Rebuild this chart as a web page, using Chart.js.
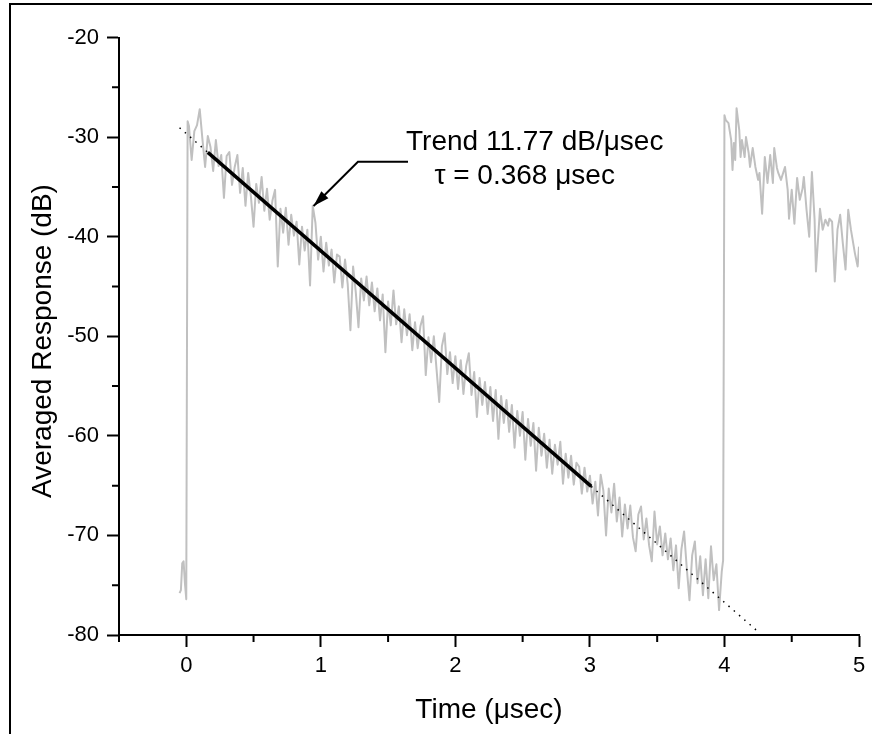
<!DOCTYPE html>
<html>
<head>
<meta charset="utf-8">
<script src="https://cdn.jsdelivr.net/npm/chart.js@4.4.1/dist/chart.umd.min.js"></script>
<style>
  html, body { margin: 0; padding: 0; background: #fff; }
  canvas { display: block; }
</style>
</head>
<body>
<canvas id="chart" width="872" height="734"></canvas>
<script>
// Time (µs) and averaged response (dB)
const timeUs = [
  -0.05, -0.04, -0.03, -0.02, -0.01, 0.00, 0.01,
  0.02, 0.04, 0.06, 0.08, 0.10, 0.12, 0.14, 0.16, 0.18, 0.20,
  0.22, 0.24, 0.26, 0.28, 0.30, 0.32, 0.34, 0.36, 0.38, 0.40,
  0.42, 0.44, 0.46, 0.48, 0.50, 0.52, 0.54, 0.56, 0.58, 0.60,
  0.62, 0.64, 0.66, 0.68, 0.70, 0.72, 0.74, 0.76, 0.78, 0.80,
  0.82, 0.84, 0.86, 0.88, 0.90, 0.92, 0.94, 0.96, 0.98, 1.00,
  1.02, 1.04, 1.06, 1.08, 1.10, 1.12, 1.14, 1.16, 1.18, 1.20,
  1.22, 1.24, 1.26, 1.28, 1.30, 1.32, 1.34, 1.36, 1.38, 1.40,
  1.42, 1.44, 1.46, 1.48, 1.50, 1.52, 1.54, 1.56, 1.58, 1.60,
  1.62, 1.64, 1.66, 1.68, 1.70, 1.72, 1.74, 1.76, 1.78, 1.80,
  1.82, 1.84, 1.86, 1.88, 1.90, 1.92, 1.94, 1.96, 1.98, 2.00,
  2.02, 2.04, 2.06, 2.08, 2.10, 2.12, 2.14, 2.16, 2.18, 2.20,
  2.22, 2.24, 2.26, 2.28, 2.30, 2.32, 2.34, 2.36, 2.38, 2.40,
  2.42, 2.44, 2.46, 2.48, 2.50, 2.52, 2.54, 2.56, 2.58, 2.60,
  2.62, 2.64, 2.66, 2.68, 2.70, 2.72, 2.74, 2.76, 2.78, 2.80,
  2.82, 2.84, 2.86, 2.88, 2.90, 2.92, 2.94, 2.96, 2.98, 3.00,
  3.02, 3.04, 3.06, 3.08, 3.10, 3.12, 3.14, 3.16, 3.18, 3.20,
  3.22, 3.24, 3.26, 3.28, 3.30, 3.32, 3.34, 3.36, 3.38, 3.40,
  3.42, 3.44, 3.46, 3.48, 3.50, 3.52, 3.54, 3.56, 3.58, 3.60,
  3.62, 3.64, 3.66, 3.68, 3.70, 3.72, 3.74, 3.76, 3.78, 3.80,
  3.82, 3.84, 3.86, 3.88, 3.90, 3.92, 3.94, 3.96, 3.98, 3.99,
  4.00, 4.01, 4.03, 4.05, 4.06, 4.07, 4.08, 4.09, 4.11, 4.12,
  4.13, 4.15, 4.16, 4.18, 4.19, 4.21, 4.23, 4.25, 4.26, 4.28,
  4.30, 4.32, 4.34, 4.36, 4.37, 4.39, 4.40, 4.42, 4.45, 4.47,
  4.48, 4.50, 4.52, 4.54, 4.56, 4.58, 4.59, 4.61, 4.63, 4.65,
  4.67, 4.68, 4.70, 4.71, 4.73, 4.75, 4.77, 4.78, 4.80, 4.82,
  4.84, 4.86, 4.88, 4.90, 4.92, 4.94, 4.97, 4.99, 5.00
];
const responseDb = [
  -75.8, -75.5, -72.8, -72.6, -74.8, -76.4, -28.4,
  -28.9, -32.3, -29.4, -28.8, -27.2, -30.2, -33.0, -29.9, -31.0, -33.4,
  -30.3, -32.9, -31.8, -36.1, -31.9, -31.5, -34.8, -33.0, -31.8, -35.6,
  -33.1, -36.9, -33.6, -35.9, -39.0, -34.7, -36.6, -34.0, -37.4, -35.2,
  -38.3, -36.4, -35.3, -43.0, -37.2, -39.6, -37.1, -40.8, -37.8, -39.9,
  -38.5, -42.8, -39.0, -41.4, -39.3, -44.9, -36.9, -38.6, -42.3, -40.0,
  -43.5, -40.6, -42.9, -41.3, -44.6, -41.8, -42.0, -45.1, -42.3, -44.8,
  -49.4, -43.0, -45.6, -49.1, -44.2, -46.4, -44.0, -46.9, -44.6, -47.5,
  -45.2, -48.4, -45.8, -51.6, -46.5, -48.9, -45.4, -48.8, -47.0, -50.6,
  -47.3, -49.9, -47.8, -51.4, -48.6, -51.2, -49.0, -48.0, -53.9, -50.1,
  -52.6, -50.0, -53.3, -56.6, -51.0, -49.7, -53.8, -51.6, -54.7, -52.0,
  -55.3, -52.4, -55.8, -53.0, -51.7, -55.9, -53.6, -58.1, -54.2, -56.9,
  -54.6, -57.8, -55.1, -58.5, -55.4, -60.3, -56.0, -58.7, -56.4, -59.6,
  -56.9, -61.2, -57.5, -60.0, -57.6, -62.4, -58.3, -61.0, -58.7, -63.5,
  -59.2, -62.0, -59.8, -63.2, -60.4, -63.8, -60.9, -62.9, -60.6, -64.8,
  -61.8, -64.2, -62.0, -64.9, -62.7, -63.1, -65.8, -63.2, -65.6, -64.0,
  -66.8, -64.6, -68.0, -63.9, -65.5, -70.0, -65.3, -67.7, -64.8, -68.6,
  -66.2, -70.1, -66.9, -69.3, -67.0, -70.2, -71.6, -67.9, -67.1, -70.4,
  -68.3, -71.0, -72.6, -67.6, -70.9, -69.1, -72.0, -69.8, -72.4, -70.3,
  -73.5, -71.0, -75.3, -71.4, -69.6, -73.3, -76.5, -72.0, -70.6, -74.8,
  -72.1, -76.0, -72.4, -76.3, -71.1, -74.5, -72.9, -77.5, -73.6, -72.5,
  -27.8, -28.3, -28.6, -30.3, -33.3, -30.6, -32.3, -27.1, -29.3, -32.0,
  -30.3, -32.0, -30.0, -31.6, -33.0, -31.1, -33.0, -34.3, -33.6, -37.7,
  -32.0, -34.6, -31.8, -34.6, -31.1, -33.1, -33.6, -34.3, -33.0, -35.3,
  -38.2, -35.3, -38.7, -34.1, -36.3, -35.2, -34.0, -37.3, -40.0, -33.5,
  -38.3, -43.5, -39.3, -37.2, -39.3, -38.3, -38.9, -38.2, -38.5, -44.5,
  -39.3, -37.8, -40.7, -43.3, -37.3, -39.3, -41.7, -43.0, -41.0
];

// Linear fit: solid over the fitted window, dotted extension over the full span
const trendTime = [0.16, 3.01];
const trendDb = [-31.53, -65.08];
const fitTime = [-0.05, 4.25];
const fitDb = [-29.06, -79.67];

const xMajorTicks = [0, 1, 2, 3, 4, 5];
const xMinorTicks = [-0.5, 0.5, 1.5, 2.5, 3.5, 4.5];
const yMajorTicks = [-80, -70, -60, -50, -40, -30, -20];
const yMinorTicks = [-75, -65, -55, -45, -35, -25];

const noteLines = ['Trend 11.77 dB/\u03bcsec', '\u03c4 = 0.368 \u03bcsec'];

const FONT = '"Liberation Sans", Arial, Helvetica, sans-serif';

const pairs = (xs, ys) => xs.map((x, i) => ({ x, y: ys[i] }));

// frame, minor ticks, axis titles and the trend note
const decorations = {
  id: 'decorations',
  afterDraw(chart) {
    const { ctx, chartArea: a, scales: { x, y } } = chart;
    ctx.save();
    ctx.strokeStyle = '#000';
    ctx.fillStyle = '#000';
    ctx.lineWidth = 2;

    // outer frame (only left and top edges show in the picture)
    ctx.beginPath();
    ctx.moveTo(10, 734);
    ctx.lineTo(10, 4);
    ctx.lineTo(872, 4);
    ctx.stroke();

    // minor ticks
    ctx.beginPath();
    xMinorTicks.forEach((v) => {
      const px = x.getPixelForValue(v);
      ctx.moveTo(px, a.bottom);
      ctx.lineTo(px, a.bottom + 7);
    });
    yMinorTicks.forEach((v) => {
      const py = y.getPixelForValue(v);
      ctx.moveTo(a.left, py);
      ctx.lineTo(a.left - 7, py);
    });
    ctx.stroke();

    // axis titles
    ctx.font = `28px ${FONT}`;
    ctx.textAlign = 'center';
    ctx.textBaseline = 'alphabetic';
    ctx.fillText('Time (\u03bcsec)', (a.left + a.right) / 2, 718);
    ctx.save();
    ctx.translate(51, 341);
    ctx.rotate(-Math.PI / 2);
    ctx.fillText('Averaged Response (dB)', 0, 0);
    ctx.restore();

    // note text
    ctx.fillText(noteLines[0], x.getPixelForValue(2.59), y.getPixelForValue(-31.3));
    ctx.fillText(noteLines[1], x.getPixelForValue(2.515), y.getPixelForValue(-34.71));

    // arrow: tail -> elbow -> tip
    const tail = { x: x.getPixelForValue(1.648), y: y.getPixelForValue(-32.47) };
    const elbow = { x: x.getPixelForValue(1.276), y: y.getPixelForValue(-32.47) };
    const tip = { x: x.getPixelForValue(0.946), y: y.getPixelForValue(-36.92) };
    ctx.lineWidth = 2;
    ctx.beginPath();
    ctx.moveTo(tail.x, tail.y);
    ctx.lineTo(elbow.x, elbow.y);
    ctx.lineTo(tip.x, tip.y);
    ctx.stroke();
    const ang = Math.atan2(tip.y - elbow.y, tip.x - elbow.x);
    const len = 16, half = 5;
    const bx = tip.x - len * Math.cos(ang);
    const by = tip.y - len * Math.sin(ang);
    ctx.beginPath();
    ctx.moveTo(tip.x, tip.y);
    ctx.lineTo(bx + half * Math.sin(ang), by - half * Math.cos(ang));
    ctx.lineTo(bx - half * Math.sin(ang), by + half * Math.cos(ang));
    ctx.closePath();
    ctx.fill();
    ctx.restore();
  },
};

new Chart(document.getElementById('chart'), {
  type: 'line',
  data: {
    datasets: [
      {
        label: 'Trend',
        data: pairs(trendTime, trendDb),
        borderColor: '#000',
        borderWidth: 3.5,
        pointRadius: 0,
      },
      {
        label: 'Fit',
        data: pairs(fitTime, fitDb),
        borderColor: '#000',
        borderWidth: 1.5,
        borderDash: [1.5, 5.5],
        pointRadius: 0,
      },
      {
        label: 'Averaged response',
        data: pairs(timeUs, responseDb),
        borderColor: 'rgb(192,192,192)',
        borderWidth: 2,
        borderJoinStyle: 'round',
        pointRadius: 0,
        tension: 0,
      },
    ],
  },
  options: {
    responsive: false,
    animation: false,
    devicePixelRatio: 1,
    layout: { padding: { left: 10, right: 13, top: 37.5, bottom: 0 } },
    plugins: { legend: { display: false }, tooltip: { enabled: false } },
    scales: {
      x: {
        type: 'linear',
        min: -0.5,
        max: 5,
        afterFit: (s) => { s.height = 99; },
        afterBuildTicks: (s) => { s.ticks = xMajorTicks.map((v) => ({ value: v })); },
        grid: { drawOnChartArea: false, tickLength: 12, tickWidth: 2, tickColor: '#000' },
        border: { display: true, color: '#000', width: 2 },
        ticks: { color: '#000', padding: 6, font: { family: FONT, size: 22 } },
      },
      y: {
        type: 'linear',
        min: -80,
        max: -20,
        afterFit: (s) => { s.width = 109; },
        afterBuildTicks: (s) => { s.ticks = yMajorTicks.map((v) => ({ value: v })); },
        grid: { drawOnChartArea: false, tickLength: 12, tickWidth: 2, tickColor: '#000' },
        border: { display: true, color: '#000', width: 2 },
        ticks: { color: '#000', padding: 8, font: { family: FONT, size: 22 } },
      },
    },
  },
  plugins: [decorations],
});
</script>
</body>
</html>
